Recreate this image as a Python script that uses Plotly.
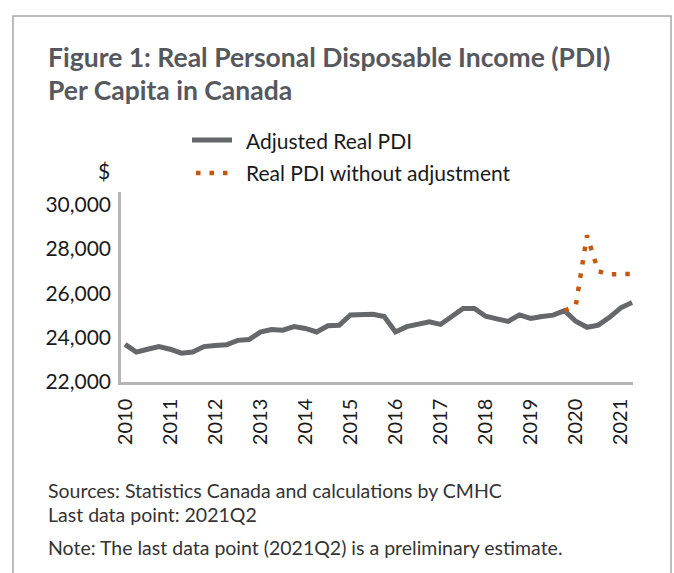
import plotly.graph_objects as go

# Quarterly series, 2010Q1 to 2021Q2
years = list(range(2010, 2022))
quarters = [f"{y}Q{q}" for y in years for q in range(1, 5)][:46]

adjusted_pdi = [
    23700, 23350, 23480, 23600, 23480, 23300, 23350, 23600,
    23650, 23680, 23880, 23920, 24250, 24370, 24340, 24500,
    24420, 24260, 24540, 24560, 25030, 25060, 25060, 24960,
    24260, 24500, 24620, 24720, 24600, 24950, 25320, 25320,
    24970, 24850, 24740, 25030, 24870, 24960, 25020, 25220,
    24740, 24470, 24570, 24920, 25350, 25590,
]
unadjusted_pdi = [None] * 39 + [25220, 25450, 28620, 27000, 26860, 26860, 26880]

series_names = ["Adjusted Real PDI", "Real PDI without adjustment"]
tick_years = [str(y) for y in years]
y_ticks = [22000, 24000, 26000, 28000, 30000]


def qpos(label):
    y, q = label.split("Q")
    return int(y) + (int(q) - 1) / 4


x_vals = [qpos(q) for q in quarters]

# plot-area geometry (pixels)
W, H = 674, 573
L, R, T, B = 121, 633, 192, 382


def px(x):
    return (x - L) / (R - L)


def py(y):
    return (B - y) / (B - T)


FONT = "Lato"
GRAY_TXT = "#55585d"
TXT = "#1a1a1a"
LINE_GRAY = "#65676b"
ORANGE = "#c5580f"
DOT_DASH = "4.5px,9px"

fig = go.Figure()
fig.add_trace(go.Scatter(
    x=x_vals, y=adjusted_pdi, mode="lines", name=series_names[0],
    line=dict(color=LINE_GRAY, width=5),
))
fig.add_trace(go.Scatter(
    x=x_vals, y=unadjusted_pdi, mode="lines", name=series_names[1],
    line=dict(color=ORANGE, width=4.5, dash=DOT_DASH),
    connectgaps=False,
))

fig.update_layout(
    width=W, height=H,
    margin=dict(l=L, r=W - R, t=T, b=H - B, pad=0),
    paper_bgcolor="white", plot_bgcolor="white",
    font=dict(family=FONT, color=TXT, size=20),
    showlegend=False,
    xaxis=dict(
        range=[2009.91, 2021.27],
        tickmode="array", tickvals=[int(t) for t in tick_years], ticktext=tick_years,
        tickangle=-90, tickfont=dict(size=20, family=FONT, color=TXT),
        showline=True, linecolor="#b5b5b5", linewidth=2.5,
        showgrid=False, zeroline=False, ticks="", ticklabelstandoff=6,
    ),
    yaxis=dict(
        range=[22000, 30580],
        tickmode="array", tickvals=y_ticks,
        ticktext=[f"{v:,}" for v in y_ticks],
        tickfont=dict(size=21, family=FONT, color=TXT),
        showline=True, linecolor="#b5b5b5", linewidth=2.5,
        showgrid=False, zeroline=False, ticks="", ticklabelstandoff=3,
    ),
)

# outer frame
fig.add_shape(
    type="rect", xref="paper", yref="paper",
    x0=px(13), x1=px(671), y0=py(620), y1=py(16),
    line=dict(color="#a6a6a6", width=1.5), fillcolor="rgba(0,0,0,0)", layer="below",
)

# title
for txt, yy in [("Figure 1: Real Personal Disposable Income (PDI)", 57),
                ("Per Capita in Canada", 90)]:
    fig.add_annotation(
        xref="paper", yref="paper", x=px(46), y=py(yy), xanchor="left", yanchor="middle",
        showarrow=False, text=f"<b>{txt}</b>",
        font=dict(family=FONT, size=26.5, color=GRAY_TXT),
    )

# legend keys
legend_rows = [(140, dict(color=LINE_GRAY, width=5)),
               (173, dict(color=ORANGE, width=4.5, dash=DOT_DASH))]
for (yy, style), name in zip(legend_rows, series_names):
    x0 = 192 if style.get("dash") is None else 196
    fig.add_shape(
        type="line", xref="paper", yref="paper",
        x0=px(x0), x1=px(232), y0=py(yy), y1=py(yy), line=style,
    )
    fig.add_annotation(
        xref="paper", yref="paper", x=px(244), y=py(yy), xanchor="left", yanchor="middle",
        showarrow=False, text=name, font=dict(family=FONT, size=21, color=TXT),
    )

# unit label
fig.add_annotation(
    xref="paper", yref="paper", x=px(104), y=py(170), xanchor="center", yanchor="middle",
    showarrow=False, text="$", font=dict(family=FONT, size=21, color=TXT),
)

# footnotes
notes = [
    ("Sources: Statistics Canada and calculations by CMHC", 490),
    ("Last data point: 2021Q2", 514),
    ("Note: The last data point (2021Q2) is a preliminary estimate.", 547),
]
for txt, yy in notes:
    fig.add_annotation(
        xref="paper", yref="paper", x=px(46), y=py(yy), xanchor="left", yanchor="middle",
        showarrow=False, text=txt, font=dict(family=FONT, size=19.5, color="#333333"),
    )

fig.write_html("out.html")
